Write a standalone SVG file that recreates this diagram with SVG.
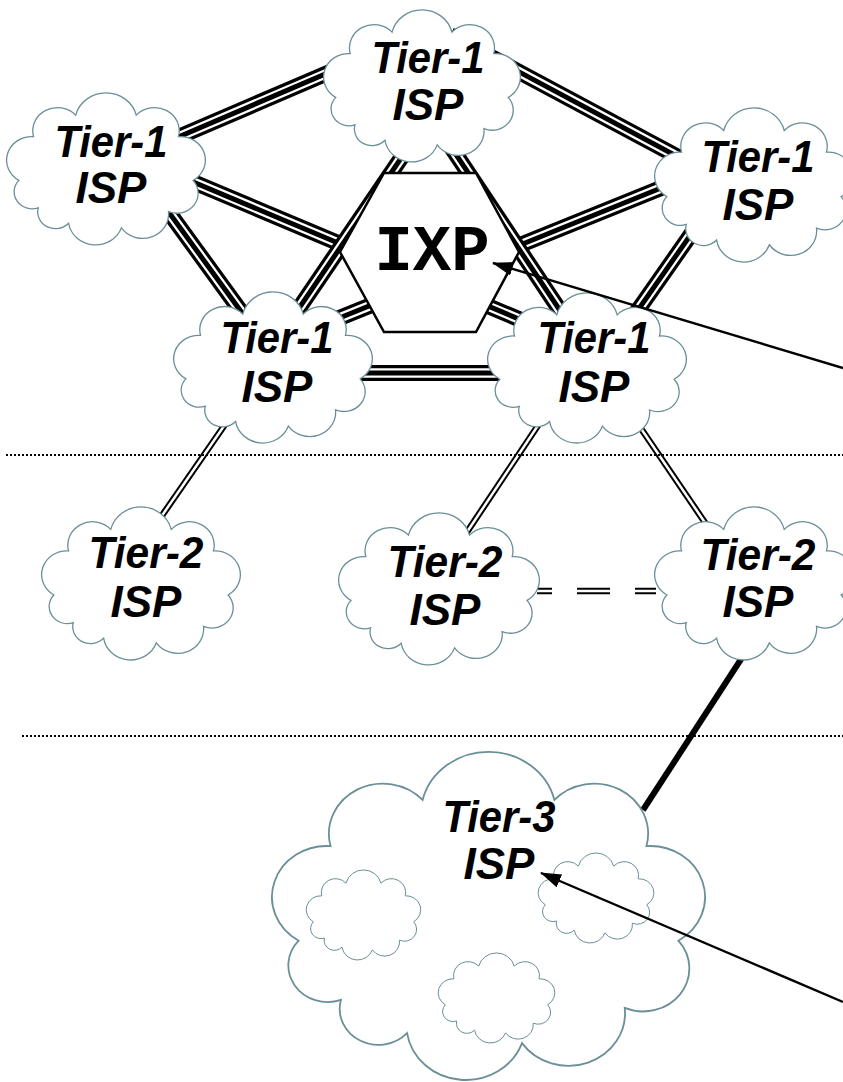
<svg xmlns="http://www.w3.org/2000/svg" xmlns:xlink="http://www.w3.org/1999/xlink" width="843" height="1082" viewBox="0 0 843 1082">
<style>
.cloud{fill:#fff;stroke:#6a8f98;stroke-width:1.3}
.cloud-big{fill:#fff;stroke:#6a8f98;stroke-width:1.8}
.cloud-small{fill:#fff;stroke:#6a8f98;stroke-width:1}
.lbl{font-family:"Liberation Sans",Arial,sans-serif;font-weight:bold;font-style:italic;font-size:44px;text-anchor:middle;fill:#000}
.ixp{font-family:"Liberation Mono","Courier New",monospace;font-weight:bold;font-size:64px;text-anchor:middle;fill:#000}
.tA{fill:none;stroke:#000;stroke-width:16}
.tB{fill:none;stroke:#fff;stroke-width:9.5}
.tC{fill:none;stroke:#000;stroke-width:5}
.dA{fill:none;stroke:#000;stroke-width:6.5}
.dB{fill:none;stroke:#fff;stroke-width:2.5}
.thick{fill:none;stroke:#000;stroke-width:6}
.dots{fill:none;stroke:#000;stroke-width:2;stroke-dasharray:2 2}
.ptr{fill:none;stroke:#000;stroke-width:2.4;marker-end:url(#ah)}
.hex{fill:#fff;stroke:#000;stroke-width:2.5}
</style>
<defs>
<path id="cloud" vector-effect="non-scaling-stroke" d="M13.3,85.8 A25,25 0 0 1 27.9,39.4 A24.6,24.6 0 0 1 69.9,16.7 A31,31 0 0 1 130.1,16.7 A24.6,24.6 0 0 1 172.1,39.4 A25,25 0 0 1 186.7,85.8 A21.1,21.1 0 0 1 162.2,118.8 A25.8,25.8 0 0 1 115.3,136.1 A27.2,27.2 0 0 1 62.8,131.2 A17.7,17.7 0 0 1 32.6,114.9 A18,18 0 0 1 13.3,85.8 Z"/>
<marker id="ah" markerWidth="21" markerHeight="14" refX="20" refY="7" orient="auto" markerUnits="userSpaceOnUse">
<path d="M0,0 L21,7 L0,14 Z" fill="#000"/>
</marker>
<path id="e-L-T" d="M120,162 L400,42"/>
<path id="e-T-R" d="M450,35 L740,190"/>
<path id="e-L-BL" d="M149,185 L269,350"/>
<path id="e-R-BR" d="M722,190 L610,350"/>
<path id="e-BL-BR" d="M300,373 L560,373"/>
<path id="e-L-BR" d="M110,147 L590,349"/>
<path id="e-R-BL" d="M760,148 L275,344"/>
<path id="e-T-BL" d="M427,120 L274,345"/>
<path id="e-T-BR" d="M433,120 L583,345"/>
<path id="e-BL-T2a" d="M242,400 L152,530"/>
<path id="e-BR-T2b" d="M555,400 L465,535"/>
<path id="e-BR-T2c" d="M625,405 L710,530"/>
<path id="e-T2b-T2c" d="M537,591 H552 M577,591 H610 M635,591 H656"/>
</defs>

<g id="connectors">
<g id="link-L-T"><use xlink:href="#e-L-T" class="tA"/><use xlink:href="#e-L-T" class="tB"/><use xlink:href="#e-L-T" class="tC"/></g>
<g id="link-T-R"><use xlink:href="#e-T-R" class="tA"/><use xlink:href="#e-T-R" class="tB"/><use xlink:href="#e-T-R" class="tC"/></g>
<g id="link-L-BL"><use xlink:href="#e-L-BL" class="tA"/><use xlink:href="#e-L-BL" class="tB"/><use xlink:href="#e-L-BL" class="tC"/></g>
<g id="link-R-BR"><use xlink:href="#e-R-BR" class="tA"/><use xlink:href="#e-R-BR" class="tB"/><use xlink:href="#e-R-BR" class="tC"/></g>
<g id="link-BL-BR"><use xlink:href="#e-BL-BR" class="tA"/><use xlink:href="#e-BL-BR" class="tB"/><use xlink:href="#e-BL-BR" class="tC"/></g>
<g id="link-L-BR"><use xlink:href="#e-L-BR" class="tA"/><use xlink:href="#e-L-BR" class="tB"/><use xlink:href="#e-L-BR" class="tC"/></g>
<g id="link-R-BL"><use xlink:href="#e-R-BL" class="tA"/><use xlink:href="#e-R-BL" class="tB"/><use xlink:href="#e-R-BL" class="tC"/></g>
<g id="link-T-BL"><use xlink:href="#e-T-BL" class="tA"/><use xlink:href="#e-T-BL" class="tB"/><use xlink:href="#e-T-BL" class="tC"/></g>
<g id="link-T-BR"><use xlink:href="#e-T-BR" class="tA"/><use xlink:href="#e-T-BR" class="tB"/><use xlink:href="#e-T-BR" class="tC"/></g>
<g id="link-BL-T2a"><use xlink:href="#e-BL-T2a" class="dA"/><use xlink:href="#e-BL-T2a" class="dB"/></g>
<g id="link-BR-T2b"><use xlink:href="#e-BR-T2b" class="dA"/><use xlink:href="#e-BR-T2b" class="dB"/></g>
<g id="link-BR-T2c"><use xlink:href="#e-BR-T2c" class="dA"/><use xlink:href="#e-BR-T2c" class="dB"/></g>
<g id="link-T2b-T2c"><use xlink:href="#e-T2b-T2c" class="dA"/><use xlink:href="#e-T2b-T2c" class="dB"/></g>
<path id="link-T2c-T3" class="thick" d="M760,630 L643,810"/>
</g>

<g id="ixp">
<polygon class="hex" points="384,173 476,173 519,252 476,332 384,332 340,252"/>
<text class="ixp" x="432" y="270">IXP</text>
</g>

<g id="t1-top">
<use xlink:href="#cloud" class="cloud" transform="translate(322.5,16.4) scale(0.995,0.944)"/>
<text class="lbl" x="428" y="73" textLength="113" lengthAdjust="spacingAndGlyphs">Tier-1</text><text class="lbl" x="428" y="120">ISP</text>
</g>
<g id="t1-left">
<use xlink:href="#cloud" class="cloud" transform="translate(5.5,99.4) scale(1.005,0.944)"/>
<text class="lbl" x="111" y="157" textLength="113" lengthAdjust="spacingAndGlyphs">Tier-1</text><text class="lbl" x="111" y="203">ISP</text>
</g>
<g id="t1-right">
<use xlink:href="#cloud" class="cloud" transform="translate(653.5,114.5) scale(1.005,0.957)"/>
<text class="lbl" x="758" y="172" textLength="113" lengthAdjust="spacingAndGlyphs">Tier-1</text><text class="lbl" x="758" y="220">ISP</text>
</g>
<g id="t1-bottom-left">
<use xlink:href="#cloud" class="cloud" transform="translate(172.5,298.4) scale(1.005,0.938)"/>
<text class="lbl" x="277" y="353" textLength="113" lengthAdjust="spacingAndGlyphs">Tier-1</text><text class="lbl" x="277" y="402">ISP</text>
</g>
<g id="t1-bottom-right">
<use xlink:href="#cloud" class="cloud" transform="translate(486.5,299.3) scale(1.005,0.932)"/>
<text class="lbl" x="594" y="353" textLength="113" lengthAdjust="spacingAndGlyphs">Tier-1</text><text class="lbl" x="594" y="402">ISP</text>
</g>
<g id="t2-left">
<use xlink:href="#cloud" class="cloud" transform="translate(40.5,513.5) scale(1.005,0.95)"/>
<text class="lbl" x="146" y="568" textLength="115" lengthAdjust="spacingAndGlyphs">Tier-2</text><text class="lbl" x="146" y="617">ISP</text>
</g>
<g id="t2-middle">
<use xlink:href="#cloud" class="cloud" transform="translate(337.5,519.4) scale(1.015,0.944)"/>
<text class="lbl" x="445" y="577" textLength="115" lengthAdjust="spacingAndGlyphs">Tier-2</text><text class="lbl" x="445" y="625">ISP</text>
</g>
<g id="t2-right">
<use xlink:href="#cloud" class="cloud" transform="translate(653.5,513.5) scale(1.005,0.95)"/>
<text class="lbl" x="758" y="570" textLength="115" lengthAdjust="spacingAndGlyphs">Tier-2</text><text class="lbl" x="758" y="617">ISP</text>
</g>
<g id="t3">
<use xlink:href="#cloud" class="cloud-big" transform="translate(269.5,765.9) scale(2.19,2.037)"/>
<use xlink:href="#cloud" class="cloud-small" transform="translate(305.6,873.8) scale(0.579,0.559)"/>
<use xlink:href="#cloud" class="cloud-small" transform="translate(537.5,856.8) scale(0.585,0.559)"/>
<use xlink:href="#cloud" class="cloud-small" transform="translate(437.5,956.8) scale(0.59,0.559)"/>
<text class="lbl" x="499" y="832" textLength="113" lengthAdjust="spacingAndGlyphs">Tier-3</text><text class="lbl" x="499" y="879">ISP</text>
</g>

<g id="separators">
<line class="dots" x1="6" y1="455" x2="843" y2="455"/>
<line class="dots" x1="22" y1="736" x2="843" y2="736"/>
</g>

<g id="pointers">
<line class="ptr" x1="843" y1="368" x2="493" y2="263"/>
<line class="ptr" x1="843" y1="1002" x2="541" y2="873"/>
</g>
</svg>
